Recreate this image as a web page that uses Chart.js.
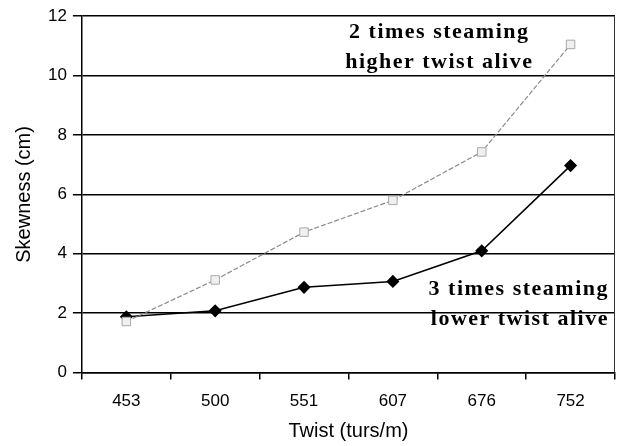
<!DOCTYPE html>
<html><head><meta charset="utf-8">
<script src="https://cdn.jsdelivr.net/npm/chart.js@4/dist/chart.umd.min.js"></script>
<style>html,body{margin:0;padding:0;background:#fff}#wrap{width:618px;height:446px}</style>
</head><body><div id="wrap"><canvas id="c" width="618" height="446"></canvas></div>
<script>
const categories = ['453','500','551','607','676','752'];
const twoTimesHigher = [1.72, 3.12, 4.73, 5.8, 7.43, 11.05];
const threeTimesLower = [1.88, 2.08, 2.87, 3.07, 4.1, 6.97];
const yTicks = [0, 2, 4, 6, 8, 10, 12];
const label1 = ['2 times steaming', 'higher twist alive'];
const label2 = ['3 times steaming', 'lower twist alive'];

const annot = {
  id: 'annot',
  afterDatasetsDraw(chart) {
    const {ctx, chartArea, scales} = chart;
    ctx.save();
    ctx.strokeStyle = '#333';
    ctx.lineWidth = 1;
    ctx.beginPath();
    ctx.moveTo(chartArea.right - 0.5, chartArea.top);
    ctx.lineTo(chartArea.right - 0.5, chartArea.bottom);
    ctx.stroke();
    ctx.fillStyle = '#000';
    ctx.font = 'bold 22px "Liberation Serif", "DejaVu Serif", serif';
    ctx.letterSpacing = '1.5px';
    ctx.textAlign = 'center';
    ctx.textBaseline = 'middle';
    const x1 = scales.x.getPixelForValue(3.5);
    ctx.fillText(label1[0], x1 + 2, scales.y.getPixelForValue(11.45));
    ctx.fillText(label1[1], x1 + 2, scales.y.getPixelForValue(10.45));
    ctx.textAlign = 'right';
    const x2 = chartArea.right - 6;
    ctx.fillText(label2[0], x2, scales.y.getPixelForValue(2.8));
    ctx.fillText(label2[1], x2, scales.y.getPixelForValue(1.8));
    ctx.restore();
  }
};

const font = '"Liberation Sans", Arial, sans-serif';
new Chart(document.getElementById('c'), {
  type: 'line',
  data: {
    labels: categories,
    datasets: [
      {
        label: '2 times steaming higher twist alive',
        data: twoTimesHigher,
        borderColor: '#8a8a8a',
        borderWidth: 1.2,
        borderDash: [5, 2],
        pointStyle: 'rect',
        pointRadius: 6,
        pointBackgroundColor: '#f0f0f0',
        pointBorderColor: '#aaa',
        pointBorderWidth: 1,
        tension: 0
      },
      {
        label: '3 times steaming lower twist alive',
        data: threeTimesLower,
        borderColor: '#000',
        borderWidth: 1.5,
        pointStyle: 'rectRot',
        pointRadius: 5.5,
        pointBackgroundColor: '#000',
        pointBorderColor: '#000',
        tension: 0
      }
    ]
  },
  options: {
    responsive: false,
    animation: false,
    devicePixelRatio: 1,
    layout: {autoPadding: false, padding: {top: 9, right: 3, bottom: 1, left: 0}},
    plugins: {legend: {display: false}, tooltip: {enabled: false}},
    scales: {
      x: {
        offset: true,
        grid: {display: true, offset: true, drawOnChartArea: false, drawTicks: true, tickLength: 7, color: '#000', lineWidth: 1.5},
        border: {color: '#000', width: 1.5},
        ticks: {color: '#000', font: {family: font, size: 17}, padding: 12},
        title: {display: true, text: 'Twist (turs/m)', color: '#000', font: {family: font, size: 20}, padding: {top: -5, bottom: 2}}
      },
      y: {
        min: 0, max: 12,
        afterBuildTicks(axis) { axis.ticks = yTicks.map(v => ({value: v})); },
        grid: {color: '#000', lineWidth: 1.5, tickLength: 9},
        border: {color: '#000', width: 1.5},
        ticks: {color: '#000', font: {family: font, size: 17}, padding: 6},
        title: {display: true, text: 'Skewness (cm)', color: '#000', font: {family: font, size: 20}, padding: {top: 12, bottom: 6}}
      }
    }
  },
  plugins: [annot]
});
</script>
</body></html>
